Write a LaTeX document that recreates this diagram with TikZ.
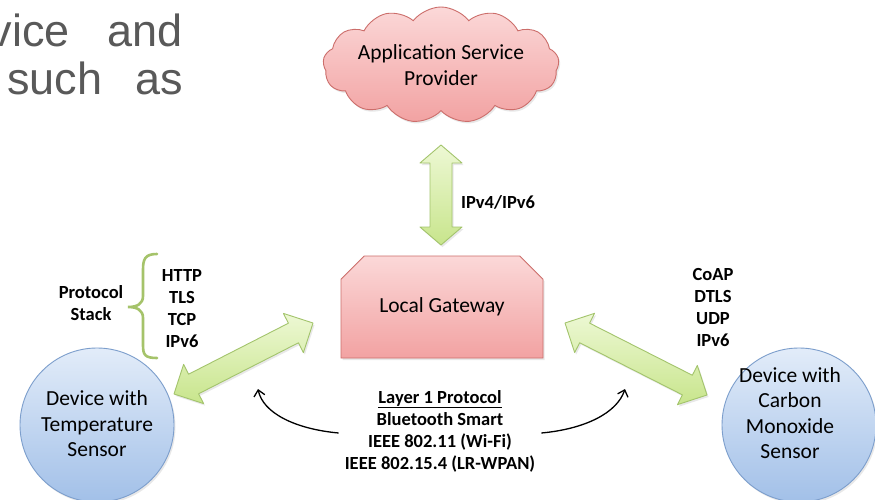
\documentclass[tikz,border=0pt]{standalone}
\usepackage{fontspec}
\setmainfont{Carlito}
\newfontfamily\arialfont{Liberation Sans}
\usetikzlibrary{shapes.symbols,shapes.misc,calc,arrows.meta,shadows}
\definecolor{pinktop}{HTML}{FBD8D8}
\definecolor{pinkbot}{HTML}{F2A2A2}
\definecolor{pinkline}{HTML}{CC6E6B}
\definecolor{bluetop}{HTML}{E2ECF9}
\definecolor{bluebot}{HTML}{A2C0E8}
\definecolor{blueline}{HTML}{7C9ECC}
\definecolor{greentop}{HTML}{EDF8D4}
\definecolor{greenbot}{HTML}{C8E58C}
\definecolor{greenline}{HTML}{A3C46C}
\definecolor{bracegreen}{HTML}{A5C36A}
\definecolor{textgray}{HTML}{595959}
\tikzset{
  softshadow/.style={drop shadow={opacity=0.18,shadow xshift=1.5pt,shadow yshift=-2pt}},
  pinkshape/.style={draw=pinkline,line width=0.9pt,top color=pinktop,bottom color=pinkbot,softshadow},
  devcircle/.style={circle,draw=blueline,line width=0.9pt,top color=bluetop,bottom color=bluebot,minimum size=154pt,inner sep=0pt,softshadow},
  fatarrowstyle/.style={draw=greenline,line width=0.9pt,top color=greentop,bottom color=greenbot,line join=round,softshadow},
  nodetext/.style={font=\fontsize{21.5}{25.5}\selectfont,align=center,inner sep=0pt},
  boldlabel/.style={font=\fontsize{18.5}{22}\selectfont\bfseries,align=center,inner sep=0pt},
  curvedarrow/.style={line width=1.3pt,-{Straight Barb[length=6pt,width=11pt,line width=1.3pt]}},
  slidetext/.style={font=\arialfont\fontsize{45}{54}\selectfont,text=textgray,inner sep=0pt}
}
\newcommand\fatarrow[5]{% from, to, head length, head half width, shaft half width
  \coordinate (fa1) at ($(#1)!#3!(#2)$);
  \coordinate (fa2) at ($(#2)!#3!(#1)$);
  \path[fatarrowstyle] (#1) -- ($(fa1)!#4!90:(#2)$) -- ($(fa1)!#5!90:(#2)$)
    -- ($(fa2)!#5!90:(#2)$) -- ($(fa2)!#4!90:(#2)$) -- (#2)
    -- ($(fa2)!#4!-90:(#2)$) -- ($(fa2)!#5!-90:(#2)$)
    -- ($(fa1)!#5!-90:(#2)$) -- ($(fa1)!#4!-90:(#2)$) -- cycle;
}
\begin{document}
\begin{tikzpicture}[x=1pt,y=-1pt]
\useasboundingbox (0,0) rectangle (875,500);
\fill[white] (0,0) rectangle (875,500);

% slide text fragment
\node[slidetext,anchor=base east] (w1) at (70,47) {vice};
\node[slidetext,anchor=base east] (w2) at (183,47) {and};
\node[slidetext,anchor=base west] (w3) at (7,95) {such};
\node[slidetext,anchor=base east] (w4) at (183,95) {as};

% cloud
\node[cloud,cloud puffs=13,cloud puff arc=105,cloud ignores aspect,
      minimum width=236pt,minimum height=116pt,pinkshape,nodetext] (asp) at (441,65)
      {Application Service\\Provider};

% gateway
\node[chamfered rectangle,chamfered rectangle corners={north west,north east},
      chamfered rectangle xsep=13pt,chamfered rectangle ysep=14pt,
      minimum width=202pt,minimum height=102pt,pinkshape,nodetext] (gw) at (442,307)
      {Local Gateway};

% devices
\node[devcircle] (dev1) at (97,425) {};
\node[nodetext] (dev1t) at (97,424) {Device with\\Temperature\\Sensor};
\node[devcircle] (dev2) at (799,425) {};
\node[nodetext] (dev2t) at (790,413) {Device with\\Carbon\\Monoxide\\Sensor};

% fat arrows
\coordinate (va1) at (441,145);
\coordinate (va2) at (441,245);
\fatarrow{va1}{va2}{18pt}{21pt}{11pt}
\node[boldlabel,anchor=west] (ipl) at (461,202) {IPv4/IPv6};

\coordinate (la1) at (174,394);
\coordinate (la2) at (313,323);
\fatarrow{la1}{la2}{22pt}{22pt}{11pt}

\coordinate (ra1) at (565,323);
\coordinate (ra2) at (707,395);
\fatarrow{ra1}{ra2}{22pt}{22pt}{11pt}

% protocol stacks
\node[boldlabel] (ps) at (91,303) {Protocol\\Stack};
\draw[bracegreen,line width=2.6pt,line cap=round]
  (157,254) .. controls (145,254) and (143,259) .. (143,270) -- (143,296)
  .. controls (143,304) and (137,307) .. (128,307)
  .. controls (137,307) and (143,310) .. (143,318) -- (143,345)
  .. controls (143,355) and (145,358) .. (157,358);
\node[boldlabel] (stk1) at (182,309) {HTTP\\TLS\\TCP\\IPv6};
\node[boldlabel] (stk2) at (713,307) {CoAP\\DTLS\\UDP\\IPv6};

% layer 1
\node[boldlabel,inner xsep=6pt] (l1) at (440,431)
  {\underline{Layer 1 Protocol}\\Bluetooth Smart\\IEEE 802.11 (Wi-Fi)\\IEEE 802.15.4 (LR-WPAN)};
\coordinate (c1e) at (258,389);
\coordinate (c2e) at (625,389);
\draw[curvedarrow] (l1.west |- 0,433) .. controls (295,429) and (263,413) .. (c1e);
\draw[curvedarrow] (l1.east |- 0,433) .. controls (585,429) and (617,413) .. (c2e);
\end{tikzpicture}
\end{document}
